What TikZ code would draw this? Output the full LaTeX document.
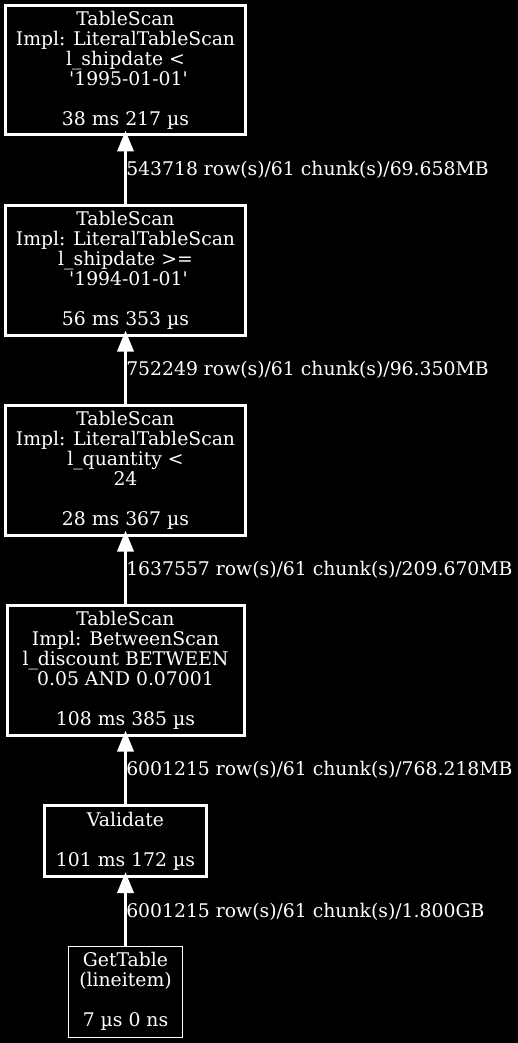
\documentclass[tikz,border=0pt]{standalone}
\usepackage{fontspec}
\setmainfont{DejaVu Serif}[Ligatures=TeXOff]
\usepackage{tikz}
\usetikzlibrary{arrows.meta,positioning}

\begin{document}
\begin{tikzpicture}

  \tikzset{main node/.style={rectangle, draw=white, text=white, fill=black,
  		line width=3pt, align=center, inner sep=2pt,
  		font=\fontsize{18.8pt}{20pt}\selectfont}, }
  \tikzset{scan node/.style={main node, minimum width=240pt, minimum height=129.5pt}, }
  \tikzset{linea/.style={-{Triangle[length=21pt,width=16pt,fill=white]}, color=white,
  		line width=3.5pt, shorten >=-6pt}, }
  \tikzset{rows/.style={midway, anchor=west, inner sep=0pt, xshift=-1pt, text=white,
  		font=\fontsize{18.8pt}{20pt}\selectfont}, }
  \path[fill=black, use as bounding box] (0,0) rectangle (518pt,-1043pt);
    \node[scan node] (1) at (125.5pt,-70.25pt)
      {TableScan\\Impl: LiteralTableScan\\l\_shipdate <~\\~'1995-01-01'\\~\\38 ms 217 µs};
    \node[scan node] (2) [below =67.5pt of 1]
      {TableScan\\Impl: LiteralTableScan\\l\_shipdate >=~\\~'1994-01-01'\\~\\56 ms 353 µs};
    \node[scan node] (3) [below =67.5pt of 2]
      {TableScan\\Impl: LiteralTableScan\\l\_quantity <~\\24\\~\\28 ms 367 µs};
    \node[scan node, minimum width=237pt] (4) [below =67.5pt of 3]
      {TableScan\\Impl: BetweenScan\\l\_discount BETWEEN~\\0.05 AND 0.07001\\~\\108 ms 385 µs};
    \node[main node, minimum width=162pt, minimum height=71pt] (5) [below =67.5pt of 4]
      {Validate\\~\\101 ms 172 µs};
    \node[main node, line width=1pt, minimum width=114pt, minimum height=91pt] (6) [below =67.5pt of 5]
      {GetTable\\(lineitem)\\~\\7 µs 0 ns};

\foreach \x /\y /\t in{2/1/{543718 row(s)/61 chunk(s)/69.658MB},
  3/2/{752249 row(s)/61 chunk(s)/96.350MB},
  4/3/{1637557 row(s)/61 chunk(s)/209.670MB},
  5/4/{6001215 row(s)/61 chunk(s)/768.218MB},
  6/5/{6001215 row(s)/61 chunk(s)/1.800GB}}
  \path[linea] (\x) edge node[rows] {\t} (\y);
%%
\end{tikzpicture}
\end{document}
